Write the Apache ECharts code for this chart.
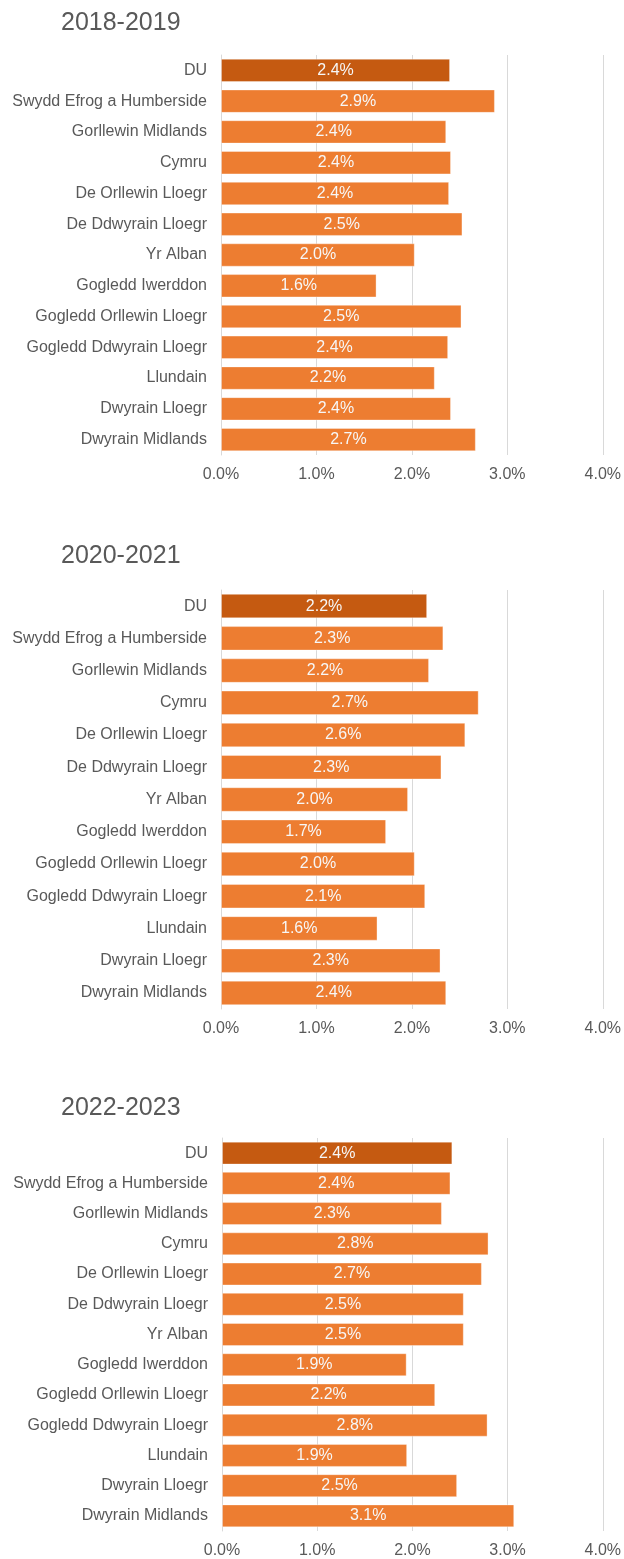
<!DOCTYPE html>
<html>
<head>
<meta charset="utf-8">
<script src="https://cdn.jsdelivr.net/npm/echarts@6/dist/echarts.min.js"></script>
<style>
  body { margin: 0; background: #fff; }
  #myChart { width: 624px; height: 1559px; }
</style>
</head>
<body>
<div id="myChart"></div>
<script>
// Categories (top to bottom)
const regions = [
  'DU',
  'Swydd Efrog a Humberside',
  'Gorllewin Midlands',
  'Cymru',
  'De Orllewin Lloegr',
  'De Ddwyrain Lloegr',
  'Yr Alban',
  'Gogledd Iwerddon',
  'Gogledd Orllewin Lloegr',
  'Gogledd Ddwyrain Lloegr',
  'Llundain',
  'Dwyrain Lloegr',
  'Dwyrain Midlands',
]
const periods = ['2018-2019', '2020-2021', '2022-2023']

// Values in %
const values2018 = [2.40, 2.87, 2.36, 2.41, 2.39, 2.53, 2.03, 1.63, 2.52, 2.38, 2.24, 2.41, 2.67]
const values2020 = [2.16, 2.33, 2.18, 2.70, 2.56, 2.31, 1.96, 1.73, 2.03, 2.14, 1.64, 2.30, 2.36]
const values2022 = [2.42, 2.40, 2.31, 2.80, 2.73, 2.54, 2.54, 1.94, 2.24, 2.79, 1.945, 2.47, 3.07]

const textGrey = '#595959'
const barColor = '#ED7D31'
const ukColor = '#C55A11'

// panel layout
const panels = [
  { titleTop: 11, left: 221, width: 384, top: 55, height: 400, data: values2018 },
  { titleTop: 544, left: 221, width: 384, top: 590, height: 419, data: values2020 },
  { titleTop: 1096, left: 222, width: 386, top: 1138, height: 394, data: values2022 },
]

const chart = echarts.init(document.getElementById('myChart'))

chart.setOption({
  animation: false,
  textStyle: { fontFamily: 'Liberation Sans, Arial, sans-serif' },
  title: panels.map((p, i) => ({
    text: periods[i],
    left: 61,
    top: p.titleTop,
    padding: 0,
    textStyle: { color: textGrey, fontSize: 25, fontWeight: 'normal' },
  })),
  grid: panels.map(p => ({
    left: p.left,
    top: p.top,
    width: p.width,
    height: p.height,
    containLabel: false,
  })),
  xAxis: panels.map((p, i) => ({
    type: 'value',
    gridIndex: i,
    min: 0,
    max: 4,
    interval: 1,
    axisLine: { show: false },
    axisTick: { show: false },
    axisLabel: {
      color: textGrey,
      fontSize: 16,
      margin: 12,
      formatter: v => v.toFixed(1) + '%',
    },
    splitLine: { show: true, lineStyle: { color: '#D9D9D9', width: 1 } },
  })),
  yAxis: panels.map((p, i) => ({
    type: 'category',
    gridIndex: i,
    inverse: true,
    data: regions,
    axisLine: { show: true, lineStyle: { color: '#D9D9D9' } },
    axisTick: { show: false },
    axisLabel: { color: textGrey, fontSize: 16, margin: 14 },
  })),
  series: panels.map((p, i) => ({
    type: 'bar',
    xAxisIndex: i,
    yAxisIndex: i,
    barCategoryGap: '24%',
    data: p.data.map((v, j) => ({
      value: v,
      itemStyle: { color: j === 0 ? ukColor : barColor },
    })),
    itemStyle: { borderColor: 'rgba(255,255,255,0.35)', borderWidth: 1 },
    label: {
      show: true,
      position: 'inside',
      color: '#f7f7f7',
      fontSize: 16,
      formatter: d => d.value.toFixed(1) + '%',
    },
  })),
})
</script>
</body>
</html>
